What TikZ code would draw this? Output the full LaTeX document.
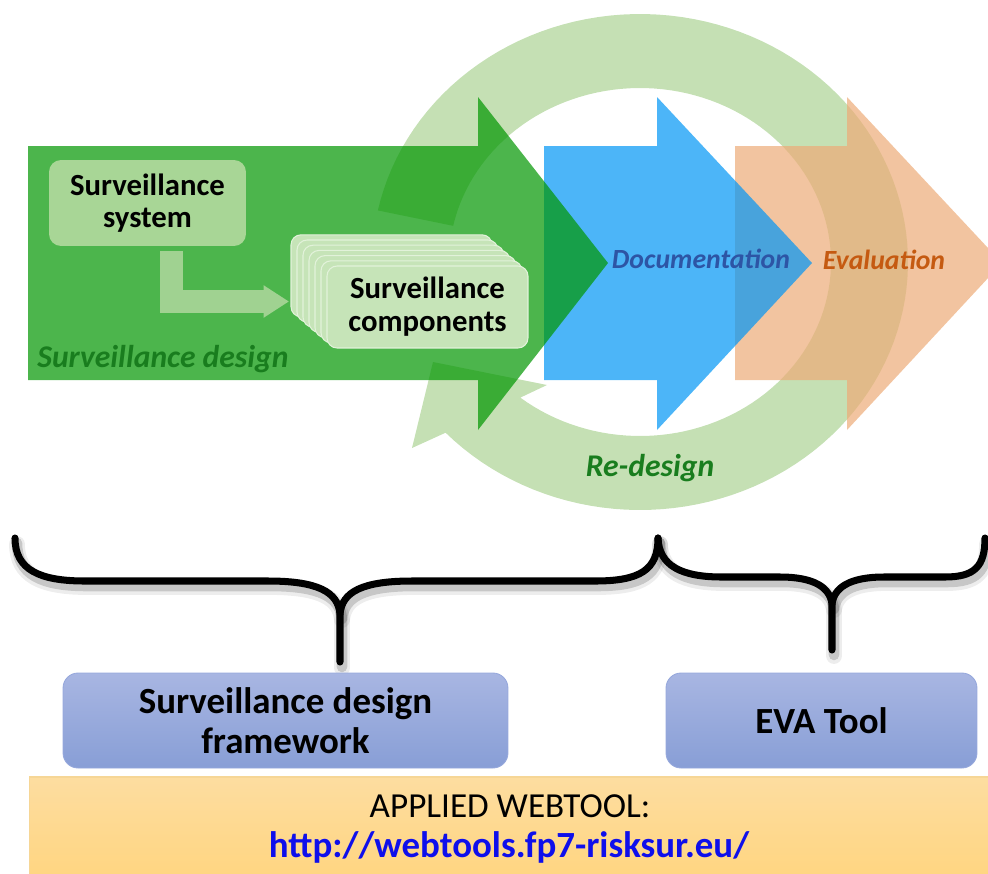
\documentclass[tikz,border=0pt]{standalone}
\usepackage{fontspec}
\setmainfont{Carlito}
\usetikzlibrary{arrows.meta}
\definecolor{ringgreen}{RGB}{197,224,180}
\definecolor{arrgreen}{RGB}{0,150,0}
\definecolor{arrblue}{RGB}{0,150,245}
\definecolor{arrorange}{RGB}{237,171,119}
\definecolor{sysfill}{RGB}{168,214,150}
\definecolor{compfill}{RGB}{198,228,184}
\definecolor{compedge}{RGB}{226,242,218}
\definecolor{lgreen}{RGB}{160,210,145}
\definecolor{designgreen}{RGB}{25,125,30}
\definecolor{docblue}{RGB}{45,85,165}
\definecolor{evalorange}{RGB}{197,90,17}
\definecolor{bluetop}{RGB}{168,182,226}
\definecolor{bluebot}{RGB}{136,158,214}
\definecolor{blueedge}{RGB}{150,168,220}
\definecolor{webtop}{RGB}{253,221,160}
\definecolor{webbot}{RGB}{255,213,128}
\definecolor{webedge}{RGB}{246,214,150}
\definecolor{urlblue}{RGB}{15,15,235}
\tikzset{
  blockarrow/.style={fill opacity=0.7},
  sysbox/.style={rectangle, rounded corners=0.24cm, fill=sysfill, minimum width=3.94cm, minimum height=1.72cm, inner sep=0pt, align=center, font=\fontsize{17.5}{18.5}\selectfont\bfseries},
  compbox/.style={rectangle, rounded corners=0.2cm, fill=compfill, draw=compedge, line width=0.6pt, minimum width=4.02cm, minimum height=1.64cm, inner sep=0pt, align=center, font=\fontsize{17.5}{18.7}\selectfont\bfseries},
  larrow/.style={draw=lgreen, line width=13pt, -{Triangle[length=14.5pt,width=17.5pt]}},
  italbl/.style={inner sep=0pt, anchor=base, font=\fontsize{15.8}{18}\selectfont\bfseries\itshape},
  biglbl/.style={inner sep=0pt, anchor=base, font=\fontsize{18}{20}\selectfont\bfseries\itshape},
  bracestroke/.style={draw=black, line width=4pt, line cap=round},
  braceshadow/.style={draw=black, opacity=0.16, line width=6pt, line cap=round, shift={(2,5)}},
  braceshadowwide/.style={draw=black, opacity=0.07, line width=9pt, line cap=round, shift={(2,6)}},
  bluebox/.style={rectangle, rounded corners=0.3cm, top color=bluetop, bottom color=bluebot, draw=blueedge, line width=0.5pt, inner sep=0pt, align=center, minimum height=1.9cm, font=\fontsize{21}{23}\selectfont\bfseries},
  webband/.style={rectangle, top color=webtop, bottom color=webbot, draw=webedge, line width=0.6pt, inner sep=0pt, minimum width=19.32cm, minimum height=2.06cm},
}
\begin{document}
\begin{tikzpicture}[x=0.02cm, y=-0.02cm]
\useasboundingbox (0,0) rectangle (988,873);
\clip (0,0) rectangle (988,873);

% circular re-design arrow
\fill[ringgreen] plot[domain=192:496.5, samples=120] ({640+268*cos(\x)},{262+248*sin(\x)})
  -- (412,448) -- (433,362) -- (547,385)
  -- plot[domain=488.8:192, samples=120] ({640+191*cos(\x)},{262+174*sin(\x)}) -- cycle;

% block arrows
\fill[arrorange, blockarrow] (735,146) -- (847,146) -- (847,97) -- (1002,263) -- (847,430) -- (847,380) -- (735,380) -- cycle;
\fill[arrblue, blockarrow] (544,146) -- (657,146) -- (657,97) -- (812,263) -- (657,430) -- (657,380) -- (544,380) -- cycle;
\fill[arrgreen, blockarrow] (28,146) -- (478,146) -- (478,97) -- (608,263) -- (478,430) -- (478,380) -- (28,380) -- cycle;

% surveillance system box
\node[sysbox] (sys) at (147.5,203) {Surveillance\\system};

% stacked component boxes
\foreach \k in {6,5,...,1} {
  \node[compbox] (c\k) at ({427.5-6*\k},{307-5.2*\k}) {};
}
\node[compbox] (comp) at (427.5,307) {Surveillance\\components};

% L-shaped arrow
\coordinate (lstart) at (171.5,251);
\coordinate (ltip) at (289,301.5);
\draw[larrow] (lstart) |- (ltip);

% labels
\node[biglbl, text=designgreen, anchor=base west] (design) at (37,367) {Surveillance design};
\node[italbl, text=docblue] (doc) at (701,268) {Documentation};
\node[italbl, text=evalorange] (eval) at (884,269) {Evaluation};
\node[biglbl, text=designgreen] (redesign) at (650,476) {Re-design};

% braces
\foreach \st in {braceshadowwide, braceshadow, bracestroke} {
  \draw[\st] (15,538) .. controls (15,570) and (40,581) .. (85,581) -- (268,581)
     .. controls (318,581) and (338,592) .. (340,614) -- (340,662);
  \draw[\st] (340,614) .. controls (342,592) and (362,581) .. (412,581) -- (595,581)
     .. controls (640,581) and (658,570) .. (658,538);
  \draw[\st] (658,538) .. controls (659,566) and (682,577) .. (722,577) -- (780,577)
     .. controls (815,577) and (830,588) .. (832,604) -- (832,650);
  \draw[\st] (832,604) .. controls (834,588) and (849,577) .. (884,577) -- (945,577)
     .. controls (975,577) and (985,566) .. (985,538);
}

% tool boxes
\node[bluebox, minimum width=8.9cm] (sdf) at (285.5,720.5) {Surveillance design\\framework};
\node[bluebox, minimum width=6.22cm] (eva) at (821.5,720.5) {EVA Tool};

% web band
\node[webband] (band) at (512,828.5) {};
\node[inner sep=0pt, anchor=base, font=\fontsize{20}{22}\selectfont] (applied) at (510,817) {APPLIED WEBTOOL:};
\node[inner sep=0pt, anchor=base, text=urlblue, font=\fontsize{21}{23}\selectfont\bfseries] (url) at (509,857) {http://webtools.fp7-risksur.eu/};
\end{tikzpicture}
\end{document}
